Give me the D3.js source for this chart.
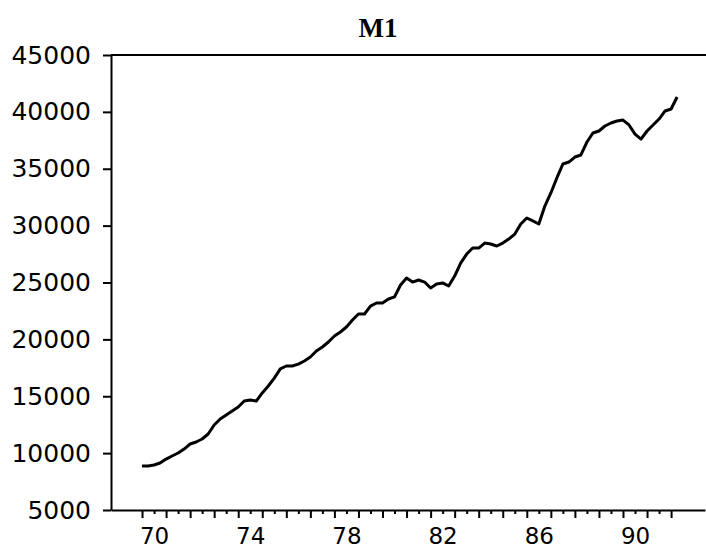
<!DOCTYPE html>
<html>
<head>
<meta charset="utf-8">
<script src="https://cdn.jsdelivr.net/npm/d3@7"></script>
<style>
  body { margin: 0; background: #fff; }
  svg { display: block; }
</style>
</head>
<body>
<div id="chart"></div>
<script>
// quarterly M1, 1970Q1 .. 1992Q2
const startYear = 70
const m1 = [
  8870, 8870, 8960, 9130, 9480, 9750, 10010, 10360,
  10800, 10980, 11240, 11680, 12470, 13000, 13350, 13700,
  14050, 14580, 14670, 14580, 15290, 15900, 16600, 17400,
  17660, 17660, 17830, 18100, 18450, 18980, 19330, 19770,
  20300, 20650, 21090, 21700, 22230, 22230, 22930, 23200,
  23200, 23550, 23730, 24780, 25400, 25040, 25220, 25040,
  24520, 24870, 24960, 24690, 25570, 26710, 27500, 28030,
  28030, 28470, 28380, 28210, 28470, 28820, 29260, 30140,
  30670, 30410, 30140, 31720, 32870, 34190, 35420, 35590,
  36030, 36210, 37350, 38140, 38320, 38760, 39020, 39200,
  39280, 38850, 38050, 37610, 38320, 38850, 39370, 40080,
  40250, 41310
]
const yTicks = [5000, 10000, 15000, 20000, 25000, 30000, 35000, 40000, 45000]
const yearTicks = d3.range(70, 93)
const halfTicks = d3.range(70.5, 92, 1)
const yearLabels = [70, 74, 78, 82, 86, 90]
const title = 'M1'

const width = 706, height = 550
const plotLeft = 111, plotRight = 705, plotTop = 55, plotBottom = 510

const svg = d3.select('#chart').append('svg')
  .attr('width', width)
  .attr('height', height)

const x = d3.scaleLinear().domain([68.71, 93.41]).range([plotLeft, plotRight])
const y = d3.scaleLinear().domain([5000, 45000]).range([plotBottom, plotTop])

const data = m1.map((v, i) => ({ t: startYear + i / 4, v: v }))

// title
svg.append('text')
  .attr('x', 378)
  .attr('y', 37)
  .attr('text-anchor', 'middle')
  .style('font-family', '"Liberation Serif", "DejaVu Serif", serif')
  .style('font-weight', 'bold')
  .style('font-size', '27px')
  .text(title)

// top frame line
svg.append('line')
  .attr('x1', plotLeft).attr('x2', width)
  .attr('y1', plotTop).attr('y2', plotTop)
  .attr('stroke', '#000').attr('stroke-width', 2)

// y axis
let yAxis = svg.append('g')
  .attr('transform', `translate(${plotLeft},0)`)
  .call(d3.axisLeft(y).tickValues(yTicks).tickSize(8).tickPadding(12).tickSizeOuter(0)
    .tickFormat(d3.format('d')))
yAxis.select('.domain').attr('stroke-width', 2)
yAxis.selectAll('.tick line').attr('stroke-width', 2)
yAxis.selectAll('text')
  .style('font-family', '"DejaVu Sans", sans-serif')
  .style('font-size', '25px')
  .attr('fill', '#000')

// x axis: year ticks
let xAxis = svg.append('g')
  .attr('transform', `translate(0,${plotBottom})`)
  .call(d3.axisBottom(x).tickValues(yearTicks).tickSize(8).tickFormat('').tickSizeOuter(0))
xAxis.select('.domain').attr('stroke-width', 2)
xAxis.selectAll('.tick line').attr('stroke-width', 2)

// half-year ticks
let xMinor = svg.append('g')
  .attr('transform', `translate(0,${plotBottom})`)
  .call(d3.axisBottom(x).tickValues(halfTicks).tickSize(4).tickFormat(''))
xMinor.select('.domain').remove()
xMinor.selectAll('.tick line').attr('stroke-width', 2)

// year labels, centred on the middle of the year
let xLab = svg.append('g')
  .attr('transform', `translate(0,${plotBottom})`)
  .call(d3.axisBottom(x).tickValues(yearLabels.map(d => d + 0.5)).tickSize(0).tickPadding(0)
    .tickFormat(d => String(Math.floor(d))))
xLab.select('.domain').remove()
xLab.selectAll('text')
  .attr('y', 34)
  .attr('dy', null)
  .style('font-family', '"DejaVu Sans", sans-serif')
  .style('font-size', '23px')
  .attr('fill', '#000')

// series
svg.append('path')
  .datum(data)
  .attr('fill', 'none')
  .attr('stroke', '#000')
  .attr('stroke-width', 3)
  .attr('stroke-linejoin', 'round')
  .attr('d', d3.line().x(d => x(d.t)).y(d => y(d.v)))
</script>
</body>
</html>
